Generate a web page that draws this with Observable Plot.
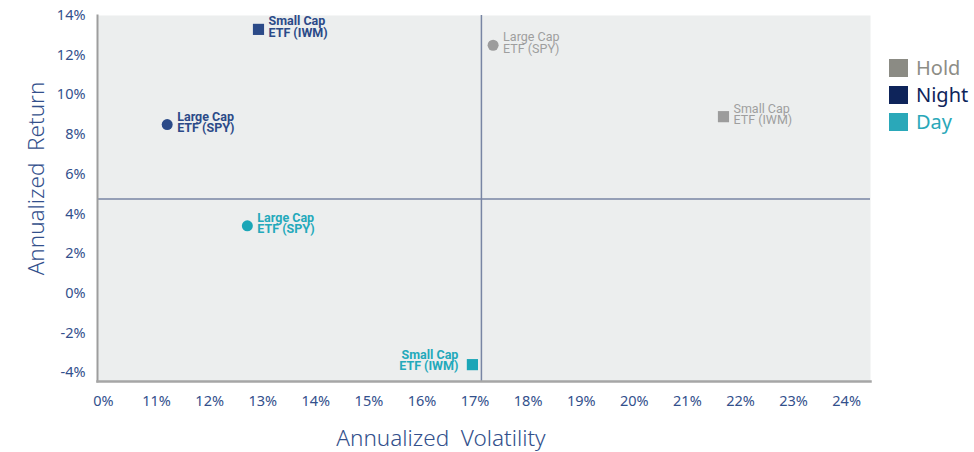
<!DOCTYPE html>
<html><head><meta charset="utf-8">
<script src="https://cdn.jsdelivr.net/npm/d3@7"></script>
<script src="https://cdn.jsdelivr.net/npm/@observablehq/plot@0.6"></script>
<style>
html,body{margin:0;padding:0;background:#fff;}
#wrap{position:relative;width:974px;height:452px;}
#legend{position:absolute;left:889px;top:54px;font-family:"Noto Sans",sans-serif;font-size:20px;line-height:27px;}
#legend div{display:flex;align-items:center;height:27px;}
#legend span.sw{display:inline-block;width:19px;height:18px;margin-right:8px;}
</style></head>
<body><div id="wrap"><div id="legend"></div></div>
<script>
const seriesNames = ["Hold", "Night", "Day"];
const seriesColors = ["#8b8b84", "#0e245a", "#2aa8b9"];
const pointColors = ["#9c9c9c", "#2b4a88", "#1ba6b7"];
const labelColors = ["#9e9e9e", "#2b4a88", "#23a9bb"];

const pointSeries = ["Hold", "Hold", "Night", "Night", "Day", "Day"];
const pointEtf = ["Large Cap\nETF (SPY)", "Small Cap\nETF (IWM)", "Large Cap\nETF (SPY)", "Small Cap\nETF (IWM)", "Large Cap\nETF (SPY)", "Small Cap\nETF (IWM)"];
const pointShape = ["circle", "square", "circle", "square", "circle", "square"];
const volatility = [17.34, 21.68, 11.2, 12.92, 12.71, 16.95];
const annReturn = [12.5, 8.9, 8.5, 13.3, 3.4, -3.6];
const labelSide = ["right", "right", "right", "right", "right", "left"];

const xTickValues = [10, 11, 12, 13, 14, 15, 16, 17, 18, 19, 20, 21, 22, 23, 24];
const xTickLabels = ["0%", "11%", "12%", "13%", "14%", "15%", "16%", "17%", "18%", "19%", "20%", "21%", "22%", "23%", "24%"];
const yTickValues = [-4, -2, 0, 2, 4, 6, 8, 10, 12, 14];
const yTickLabels = ["-4%", "-2%", "0%", "2%", "4%", "6%", "8%", "10%", "12%", "14%"];
const quadrantX = [17.12];
const quadrantY = [4.75];

const pts = pointSeries.map((s, i) => ({
  series: s, etf: pointEtf[i], shape: pointShape[i],
  x: volatility[i], y: annReturn[i], side: labelSide[i],
  color: pointColors[seriesNames.indexOf(s)],
  lcolor: labelColors[seriesNames.indexOf(s)]
}));
const circles = pts.filter(d => d.shape === "circle");
const squares = pts.filter(d => d.shape === "square");
const holdLab = pts.filter(d => d.series === "Hold");
const rightLab = pts.filter(d => d.side === "right" && d.series !== "Hold");
const leftLab = pts.filter(d => d.side === "left");

const font = "'Noto Sans', sans-serif";
const labFont = "Roboto, 'Noto Sans', sans-serif";
const axisColor = "#33508c";

const chart = Plot.plot({
  width: 974, height: 452,
  marginLeft: 97, marginRight: 104, marginTop: 15, marginBottom: 71,
  style: {fontFamily: font, background: "transparent"},
  x: {domain: [9.887, 24.45], label: null},
  y: {domain: [-4.45, 14], label: null},
  marks: [
    Plot.frame({fill: "#eceeee", stroke: null}),
    Plot.ruleX(quadrantX, {stroke: "#7885a3", strokeWidth: 1.5}),
    Plot.ruleY(quadrantY, {stroke: "#7885a3", strokeWidth: 1.5}),
    Plot.frame({anchor: "left", stroke: "#9d9d9d", strokeWidth: 2}),
    Plot.frame({anchor: "bottom", stroke: "#a6a6a6", strokeWidth: 2.5}),
    Plot.axisX({ticks: xTickValues, tickFormat: (d) => xTickLabels[xTickValues.indexOf(d)], tickSize: 0, tickPadding: 14, fontSize: 14.5, color: axisColor, label: null}),
    Plot.axisY({ticks: yTickValues, tickFormat: (d) => yTickLabels[yTickValues.indexOf(d)], tickSize: 0, tickPadding: 12, fontSize: 14.5, color: axisColor, label: null}),
    Plot.text(["Annualized  Volatility"], {frameAnchor: "bottom", textAnchor: "middle", dy: 64, dx: -43, fontSize: 22.5, fill: axisColor, fontWeight: 300}),
    Plot.text(["Annualized  Return"], {frameAnchor: "left", textAnchor: "middle", rotate: -90, dx: -61, dy: -20, fontSize: 22.5, fill: axisColor, fontWeight: 300}),
    Plot.dot(circles, {x: "x", y: "y", r: 5.5, fill: "color", stroke: null}),
    Plot.dot(squares, {x: "x", y: "y", symbol: "square", r: 6.3, fill: "color", stroke: null}),
    Plot.text(holdLab, {x: "x", y: "y", text: "etf", textAnchor: "start", dx: 10, dy: -2, fill: "lcolor", fontSize: 12.5, lineHeight: 0.92, fontWeight: 400, fontFamily: labFont}),
    Plot.text(rightLab, {x: "x", y: "y", text: "etf", textAnchor: "start", dx: 10, dy: -2, fill: "lcolor", fontSize: 12.5, lineHeight: 0.92, fontWeight: 700, fontFamily: labFont}),
    Plot.text(leftLab, {x: "x", y: "y", text: "etf", textAnchor: "end", dx: -14, dy: -4, fill: "lcolor", fontSize: 12.5, lineHeight: 0.92, fontWeight: 700, fontFamily: labFont})
  ]
});
document.getElementById("wrap").prepend(chart);

const leg = document.getElementById("legend");
seriesNames.forEach((s, i) => {
  const row = document.createElement("div");
  const sw = document.createElement("span");
  sw.className = "sw"; sw.style.background = seriesColors[i];
  const t = document.createElement("span");
  t.textContent = s; t.style.color = seriesColors[i] === "#8b8b84" ? "#8d8d86" : seriesColors[i];
  row.appendChild(sw); row.appendChild(t);
  leg.appendChild(row);
});
</script></body></html>
